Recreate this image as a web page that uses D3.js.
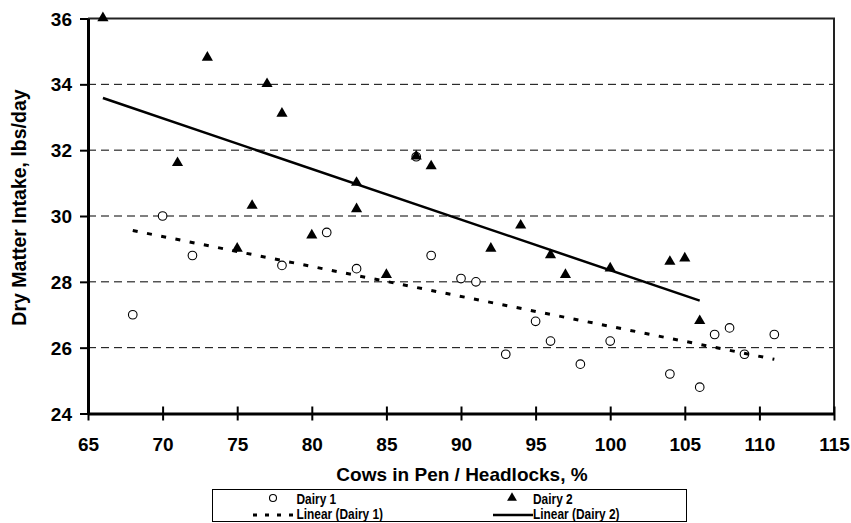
<!DOCTYPE html>
<html>
<head>
<meta charset="utf-8">
<script src="https://cdn.jsdelivr.net/npm/d3@7"></script>
<style>
  html, body { margin: 0; padding: 0; background: #fff; }
  svg { display: block; font-family: "Liberation Sans", Arial, sans-serif; font-weight: bold; }
</style>
</head>
<body>
<svg id="chart" width="851" height="523"></svg>
<script>
// ---- data ----
const dairy1X = [68, 70, 72, 78, 81, 83, 87, 88, 90, 91, 93, 95, 96, 98, 100, 104, 106, 107, 108, 109, 111];
const dairy1Y = [27.0, 30.0, 28.8, 28.5, 29.5, 28.4, 31.8, 28.8, 28.1, 28.0, 25.8, 26.8, 26.2, 25.5, 26.2, 25.2, 24.8, 26.4, 26.6, 25.8, 26.4];
const dairy2X = [66, 71, 73, 75, 76, 77, 78, 80, 83, 83, 85, 87, 88, 92, 94, 96, 97, 100, 104, 105, 106];
const dairy2Y = [36.0, 31.6, 34.8, 29.0, 30.3, 34.0, 33.1, 29.4, 31.0, 30.2, 28.2, 31.8, 31.5, 29.0, 29.7, 28.8, 28.2, 28.4, 28.6, 28.7, 26.8];
const xTicks = [65, 70, 75, 80, 85, 90, 95, 100, 105, 110, 115];
const yTicks = [24, 26, 28, 30, 32, 34, 36];
const xTitle = "Cows in Pen / Headlocks, %";
const yTitle = "Dry Matter Intake, lbs/day";
const seriesNames = ["Dairy 1", "Dairy 2", "Linear (Dairy 1)", "Linear (Dairy 2)"];

// ---- layout ----
const L = 88, R = 834, T = 18.5, B = 413.5;
const svg = d3.select("#chart");
const x = d3.scaleLinear().domain([65, 115]).range([L, R]);
const y = d3.scaleLinear().domain([24, 36]).range([B, T]);

// gridlines
svg.append("g").selectAll("line")
  .data(yTicks.filter(v => v > 24 && v < 36))
  .join("line")
  .attr("x1", L).attr("x2", R)
  .attr("y1", d => y(d)).attr("y2", d => y(d))
  .attr("stroke", "#000").attr("stroke-width", 1)
  .attr("stroke-dasharray", "8,5");

// top & right border
svg.append("path")
  .attr("d", `M${L},${T}H${R}V${B}`)
  .attr("fill", "none").attr("stroke", "#222").attr("stroke-width", 2);

// x axis
const xAxis = d3.axisBottom(x).tickValues(xTicks).tickSize(7).tickPadding(16).tickSizeOuter(0);
const gx = svg.append("g").attr("transform", `translate(0,${B})`).call(xAxis);
gx.select(".domain").attr("stroke", "#000").attr("stroke-width", 3);
gx.selectAll(".tick line").attr("stroke", "#000").attr("stroke-width", 2).attr("y1", -7);
gx.selectAll(".tick text").attr("font-size", 19).attr("font-family", "Liberation Sans, Arial, sans-serif")
  .attr("font-weight", "bold").attr("fill", "#000").attr("dy", 0).attr("y", 37);

// y axis
const yAxis = d3.axisLeft(y).tickValues(yTicks).tickSize(8).tickPadding(8).tickSizeOuter(0);
const gy = svg.append("g").attr("transform", `translate(${L},0)`).call(yAxis);
gy.select(".domain").attr("stroke", "#000").attr("stroke-width", 3);
gy.selectAll(".tick line").attr("stroke", "#000").attr("stroke-width", 2);
gy.selectAll(".tick text").attr("font-size", 19).attr("font-family", "Liberation Sans, Arial, sans-serif")
  .attr("font-weight", "bold").attr("fill", "#000").attr("x", -16).attr("dy", "0.35em");

// titles
svg.append("text").attr("x", 462).attr("y", 481).attr("text-anchor", "middle")
  .attr("font-size", 19).text(xTitle);
svg.append("text").attr("transform", "translate(26,207.5) rotate(-90)").attr("text-anchor", "middle")
  .attr("font-size", 19.5).text(yTitle);

// regression
function fit(xs, ys) {
  const mx = d3.mean(xs), my = d3.mean(ys);
  let sxy = 0, sxx = 0;
  xs.forEach((v, i) => { sxy += (v - mx) * (ys[i] - my); sxx += (v - mx) * (v - mx); });
  const m = sxy / sxx, b = my - m * mx;
  const [x0, x1] = d3.extent(xs);
  return [[x0, m * x0 + b], [x1, m * x1 + b]];
}
const line = d3.line().x(d => x(d[0])).y(d => y(d[1]));

// markers
const d1 = dairy1X.map((v, i) => [v, dairy1Y[i]]);
const d2 = dairy2X.map((v, i) => [v, dairy2Y[i]]);
svg.append("g").selectAll("circle").data(d1).join("circle")
  .attr("cx", d => x(d[0])).attr("cy", d => y(d[1])).attr("r", 4.3)
  .attr("fill", "#fff").attr("stroke", "#000").attr("stroke-width", 1.1);
const tri = d3.symbol().type(d3.symbolTriangle).size(54);
svg.append("g").selectAll("path").data(d2).join("path")
  .attr("d", tri).attr("transform", d => `translate(${x(d[0])},${y(d[1]) - 0.5})`)
  .attr("fill", "#000");

// trend lines
svg.append("path").attr("d", line(fit(dairy1X, dairy1Y)))
  .attr("fill", "none").attr("stroke", "#000").attr("stroke-width", 3).attr("stroke-dasharray", "5,9.5");
svg.append("path").attr("d", line(fit(dairy2X, dairy2Y)))
  .attr("fill", "none").attr("stroke", "#000").attr("stroke-width", 2.5);

// legend
const lg = svg.append("g");
lg.append("rect").attr("x", 212.5).attr("y", 489.5).attr("width", 474).attr("height", 32)
  .attr("fill", "#fff").attr("stroke", "#000").attr("stroke-width", 1);
const items = [
  { sx: 273, sy: 498, tx: 296.5, ty: 504, kind: "circle", name: seriesNames[0] },
  { sx: 512, sy: 498, tx: 533, ty: 504, kind: "tri", name: seriesNames[1] },
  { sx: 273, sy: 515, tx: 296.5, ty: 519, kind: "dash", name: seriesNames[2] },
  { sx: 512, sy: 515, tx: 533, ty: 519, kind: "solid", name: seriesNames[3] }
];
items.forEach(it => {
  if (it.kind === "circle") {
    lg.append("circle").attr("cx", it.sx).attr("cy", it.sy).attr("r", 3.5)
      .attr("fill", "#fff").attr("stroke", "#000").attr("stroke-width", 1.1);
  } else if (it.kind === "tri") {
    lg.append("path").attr("d", d3.symbol().type(d3.symbolTriangle).size(42)())
      .attr("transform", `translate(${it.sx},${it.sy})`).attr("fill", "#000");
  } else if (it.kind === "dash") {
    lg.append("line").attr("x1", it.sx - 20).attr("x2", it.sx + 21).attr("y1", it.sy).attr("y2", it.sy)
      .attr("stroke", "#000").attr("stroke-width", 3).attr("stroke-dasharray", "4,8");
  } else {
    lg.append("line").attr("x1", it.sx - 19).attr("x2", it.sx + 21).attr("y1", it.sy).attr("y2", it.sy)
      .attr("stroke", "#000").attr("stroke-width", 2.5);
  }
  const t = lg.append("text").attr("x", it.tx).attr("y", it.ty).attr("font-size", 14.5).text(it.name);
  const w = t.node().getComputedTextLength();
  t.attr("textLength", w * 0.82).attr("lengthAdjust", "spacingAndGlyphs");
});
</script>
</body>
</html>
